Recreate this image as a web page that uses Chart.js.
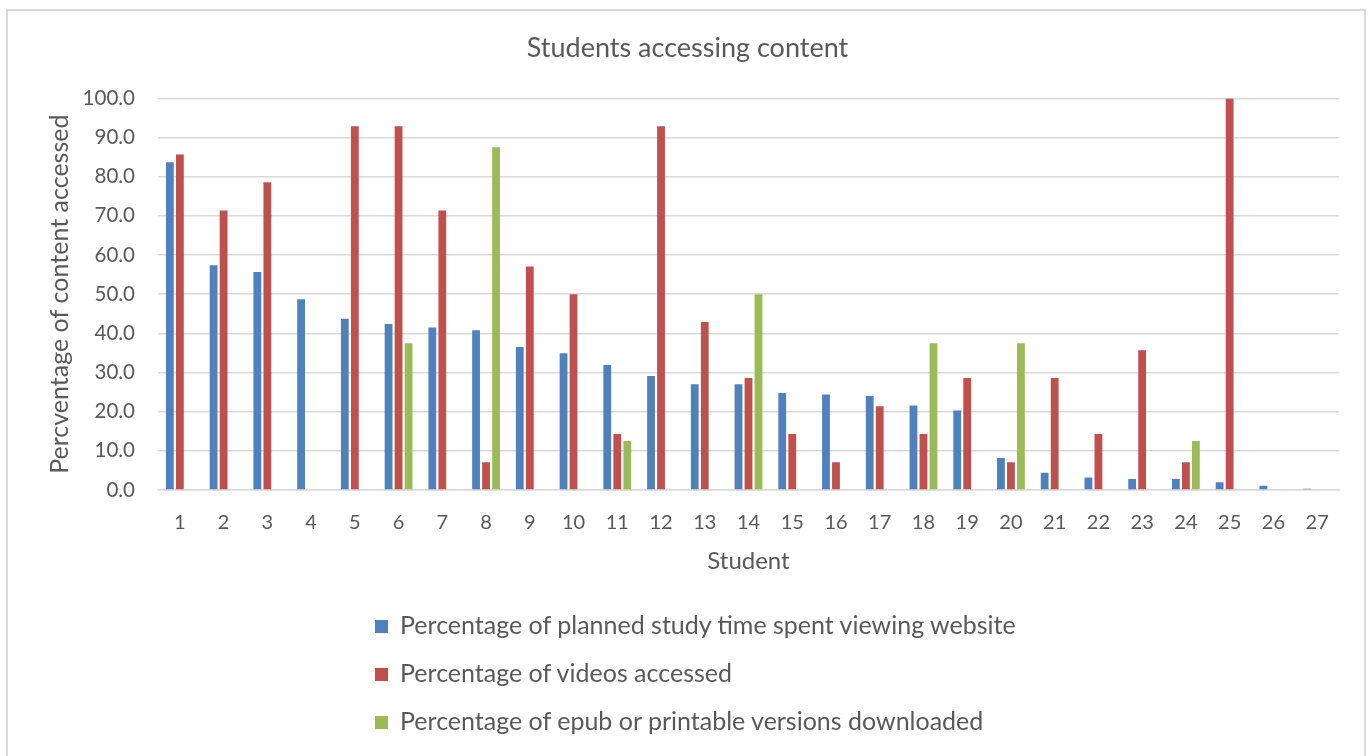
<!DOCTYPE html>
<html>
<head>
<meta charset="utf-8">
<script src="https://cdn.jsdelivr.net/npm/chart.js@4"></script>
<style>
  html, body { margin: 0; padding: 0; background: #fff; overflow: hidden; }
  #wrap { position: relative; width: 1371px; height: 756px; overflow: hidden; }
  #frame { position: absolute; left: 6px; top: 9px; width: 1360px; height: 800px; border: 2px solid #d9d9d9; box-sizing: border-box; pointer-events: none; }
  #c { position: absolute; left: 0; top: 0; }
  #legend { position: absolute; left: 375px; top: 600px; font-family: Lato, "Open Sans", sans-serif; font-size: 25px; color: #595959; }
  .item { height: 48px; display: flex; align-items: center; white-space: nowrap; }
  .box { width: 13px; height: 13px; margin-right: 12px; margin-top: 4px; flex: none; }
</style>
</head>
<body>
<div id="wrap">
  <canvas id="c" width="1371" height="756"></canvas>
  <div id="frame"></div>
  <div id="legend"></div>
</div>
<script>
const students = ["1","2","3","4","5","6","7","8","9","10","11","12","13","14","15","16","17","18","19","20","21","22","23","24","25","26","27"];
const plannedTime = [83.7,57.4,55.7,48.7,43.7,42.4,41.5,40.8,36.5,34.9,31.9,29.1,27.0,27.0,24.8,24.4,24.0,21.6,20.3,8.2,4.4,3.2,2.8,2.8,2.0,1.1,0.3];
const videosAccessed = [85.7,71.4,78.6,0,92.9,92.9,71.4,7.1,57.1,50.0,14.3,92.9,42.9,28.6,14.3,7.1,21.4,14.3,28.6,7.1,28.6,14.3,35.7,7.1,100,0,0];
const epubDownloaded = [0,0,0,0,0,37.5,0,87.5,0,0,12.5,0,0,50,0,0,0,37.5,0,37.5,0,0,0,12.5,0,0,0];
const seriesNames = [
  "Percentage of planned study time spent viewing website",
  "Percentage of videos accessed",
  "Percentage of epub or printable versions downloaded"
];
const yTicks = [0,10,20,30,40,50,60,70,80,90,100];

const colors = ["#4F81BD", "#C0504D", "#9BBB59"];
const FONT = "Lato, 'Open Sans', sans-serif";
const TXT = "#595959";

const chart = new Chart(document.getElementById("c"), {
  type: "bar",
  data: {
    labels: students,
    datasets: [plannedTime, videosAccessed, epubDownloaded].map((d, i) => ({
      label: seriesNames[i],
      data: d,
      backgroundColor: colors[i],
      borderWidth: 0,
      categoryPercentage: 0.686,
      barPercentage: 0.78
    }))
  },
  options: {
    responsive: false,
    animation: false,
    devicePixelRatio: 1,
    layout: { padding: { left: 4, right: 0, top: 0, bottom: 180.5 } },
    plugins: {
      legend: { display: false },
      tooltip: { enabled: false },
      title: {
        display: true,
        text: "Students accessing content",
        color: TXT,
        font: { family: FONT, size: 27, weight: "normal", lineHeight: 1.2 },
        padding: { top: 32, bottom: 34 }
      }
    },
    scales: {
      x: {
        afterFit: (s) => { s.height = 85.5; },
        grid: { display: false, drawTicks: false },
        border: { display: true, color: "#d9d9d9", width: 1.5 },
        ticks: { color: TXT, font: { family: FONT, size: 20 }, padding: 21, maxRotation: 0, autoSkip: false },
        title: {
          display: true, text: "Student", color: TXT,
          font: { family: FONT, size: 24, lineHeight: 1.2 },
          padding: { top: 10, bottom: 0 }
        }
      },
      y: {
        min: 0, max: 100,
        afterBuildTicks: (s) => { s.ticks = yTicks.map(v => ({ value: v })); },
        afterFit: (s) => { s.width = 154; },
        grid: { color: "#d9d9d9", lineWidth: 1.5, drawTicks: false },
        border: { display: false },
        ticks: { color: TXT, font: { family: FONT, size: 20.5 }, padding: 23, callback: (v) => Number(v).toFixed(1) },
        title: {
          display: true, text: "Percventage of content accessed", color: TXT,
          font: { family: FONT, size: 25, lineHeight: 1.2 },
          padding: { top: 41, bottom: 0 }
        }
      },
      yRightSpace: {
        position: "right",
        min: 0, max: 100,
        afterFit: (s) => { s.width = 32; },
        grid: { display: false, drawTicks: false },
        border: { display: false },
        ticks: { display: false }
      }
    }
  }
});

const legend = document.getElementById("legend");
seriesNames.forEach((name, i) => {
  const row = document.createElement("div");
  row.className = "item";
  const box = document.createElement("span");
  box.className = "box";
  box.style.background = colors[i];
  const t = document.createElement("span");
  t.textContent = name;
  row.appendChild(box);
  row.appendChild(t);
  legend.appendChild(row);
});
</script>
</body>
</html>
